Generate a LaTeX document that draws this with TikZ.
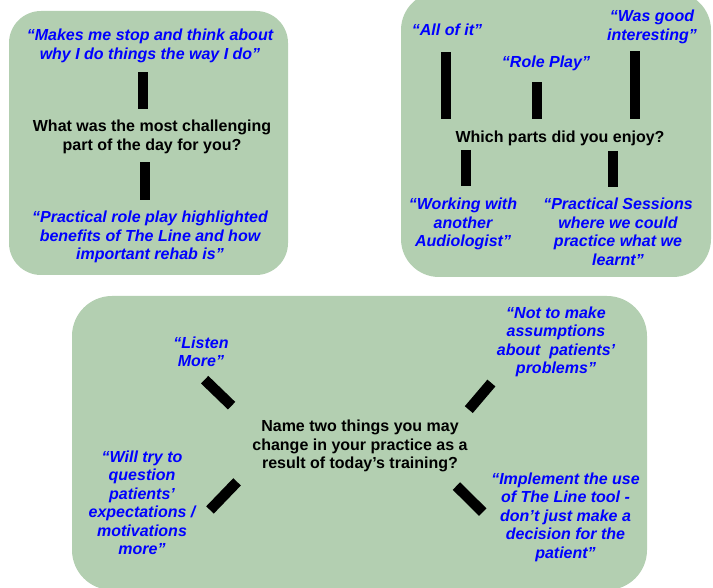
\documentclass[tikz,border=0pt]{standalone}
\usepackage{fontspec}
\setmainfont{Liberation Sans}
\usepackage{tikz}
\usetikzlibrary{positioning}
\definecolor{fbgreen}{RGB}{179,207,177}
\definecolor{fbblue}{RGB}{0,0,255}
\newcommand{\quotefont}{\fontsize{16}{18.5}\selectfont\bfseries\itshape}
\newcommand{\askfont}{\fontsize{16}{18.5}\selectfont\bfseries}
\tikzstyle{panel} = [fill=fbgreen, rounded corners=32pt]
\tikzstyle{quote} = [font=\quotefont, text=fbblue, align=center]
\tikzstyle{question} = [font=\askfont, text=black, align=center]
\tikzstyle{stick} = [line width=10.5pt, black, shorten <=8pt, shorten >=8pt]

\begin{document}
\begin{tikzpicture}[x=1pt,y=-1pt]
\useasboundingbox (0,0) rectangle (713,588);
\clip (0,0) rectangle (713,588);

% the three panels
\fill[panel] (9,11) rectangle (288,275);
\fill[panel, rounded corners=38pt] (401,-8) rectangle (711,277);
\fill[panel, rounded corners=40pt] (72,296) rectangle (647,590);

% challenging part
\node[quote] (stop) at (150,46) {“Makes me stop and think about\\why I do things the way I do”};
\node[question] (challenge) at (152,137) {What was the most challenging\\part of the day for you?};
\node[quote] (roleplay) at (150,237) {“Practical role play highlighted\\benefits of The Line and how\\important rehab is”};

\draw[stick, shorten <=6pt] ([xshift=-7pt]stop.south) -- ([xshift=-7pt]stop.south |- challenge.north);
\draw[stick, shorten <=5pt] ([xshift=-7pt]challenge.south) -- ([xshift=-7pt]challenge.south |- roleplay.north);

% enjoyed parts
\node[quote] (all) at (447,30) {“All of it”};
\node[quote] (good) at (652,27) {“Was good\\interesting”};
\node[quote] (role) at (546,63.5) {“Role Play”};
\node[question] (enjoy) at (560,138) {Which parts did you enjoy?};
\node[quote] (working) at (463,224) {“Working with\\another\\Audiologist”};
\node[quote] (sessions) at (618,232) {“Practical Sessions\\where we could\\practice what we\\learnt”};

\draw[stick, shorten <=13pt] ([xshift=-1pt]all.south) -- ([xshift=-1pt]all.south |- enjoy.north);
\draw[stick] ([xshift=-9pt]role.south) -- ([xshift=-9pt]role.south |- enjoy.north);
\draw[stick, shorten <=4pt] ([xshift=-17pt]good.south) -- ([xshift=-17pt]good.south |- enjoy.north);
\draw[stick, shorten <=1pt, shorten >=9pt] ([xshift=3pt]enjoy.south -| working.north) -- ([xshift=3pt]working.north);
\draw[stick, shorten <=2pt] ([xshift=-5pt]enjoy.south -| sessions.north) -- ([xshift=-5pt]sessions.north);

% things to change
\node[quote] (listen) at (201,352) {“Listen\\More”};
\node[question] (change) at (360,446) {Name two things you may\\change in your practice as a\\result of today’s training?};
\node[quote] (question) at (142,503) {“Will try to\\question\\patients’\\expectations /\\motivations\\more”};
\node[quote] (assume) at (556,342) {“Not to make\\assumptions\\about~ patients’\\problems”};
\node[quote] (tool) at (565.5,517) {“Implement the use\\of The Line tool -\\don’t just make a\\decision for the\\patient”};

\draw[stick, shorten <=13pt, shorten >=24pt] (listen.-107) -- (change.168);
\draw[stick, shorten <=16pt, shorten >=17pt] (question.-18) -- (change.192);
\draw[stick, shorten <=3pt, shorten >=9pt] (assume.south west) -- (change.16);
\draw[stick, shorten <=15pt, shorten >=7pt] (change.-19) -- (tool.west);
\end{tikzpicture}
\end{document}
